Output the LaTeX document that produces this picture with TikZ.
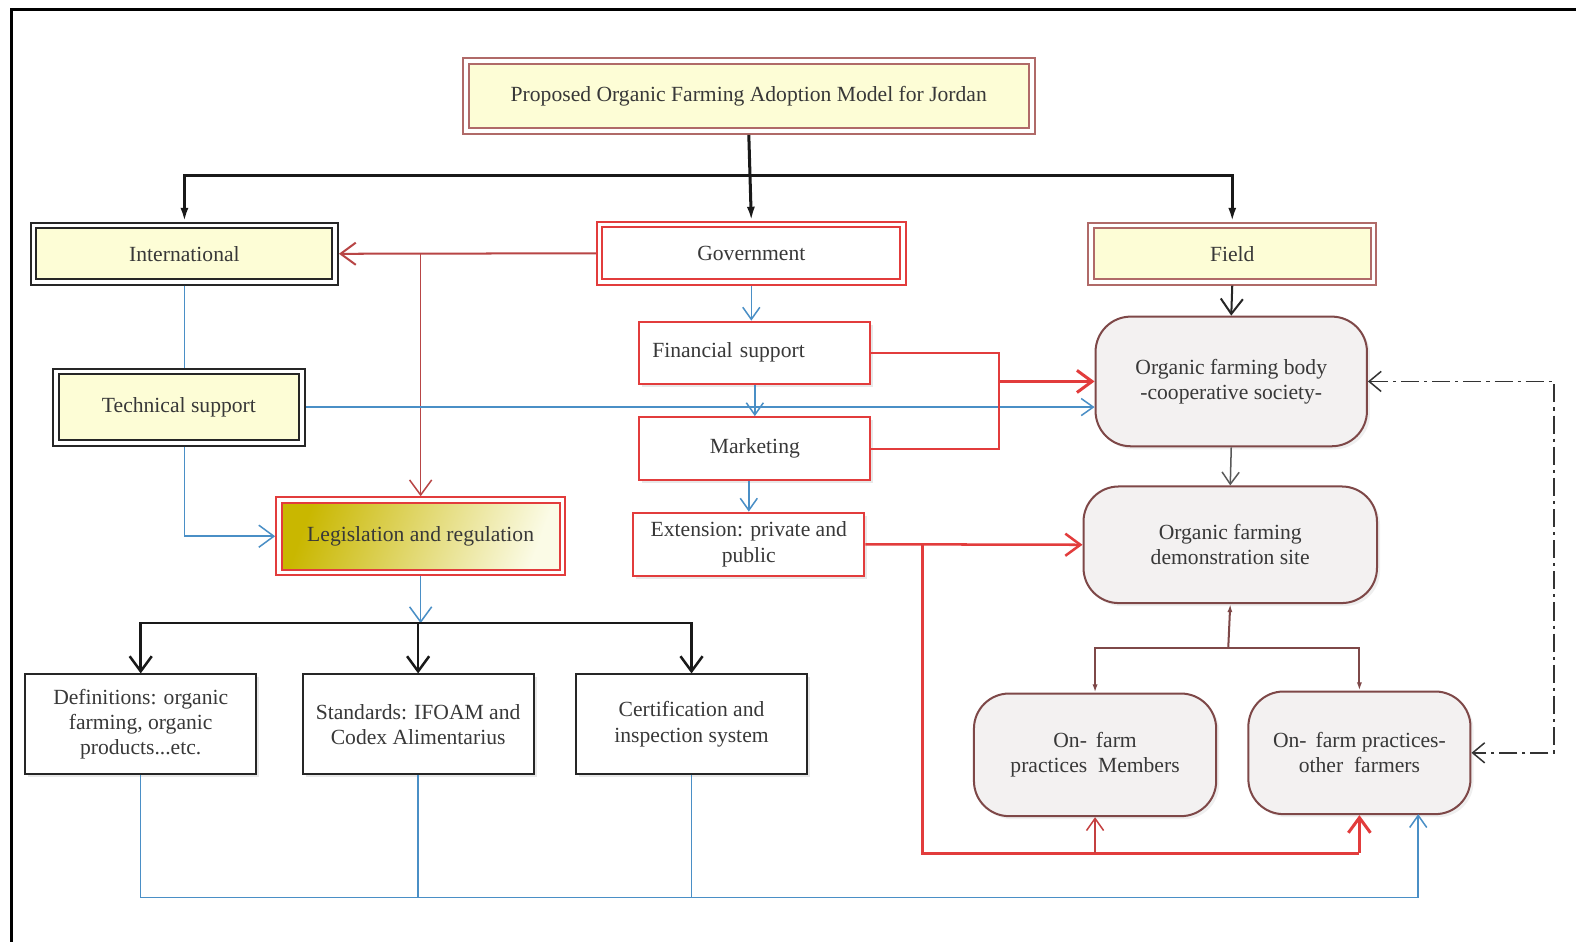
\documentclass[tikz,border=0pt]{standalone}
\usepackage{fontspec}
\setmainfont{Liberation Serif}
\usetikzlibrary{arrows.meta,shadows}
\definecolor{cream}{HTML}{FDFDD6}
\definecolor{mauve}{HTML}{B06A68}
\definecolor{redb}{HTML}{E23C3C}
\definecolor{darkr}{HTML}{B84545}
\definecolor{bluel}{HTML}{4A8FC6}
\definecolor{brownb}{HTML}{7E4848}
\definecolor{grayf}{HTML}{F3F1F1}
\definecolor{txt}{HTML}{383838}
\definecolor{legdark}{HTML}{C9B700}
\definecolor{leglight}{HTML}{FBFBE6}
\tikzset{
  every node/.style={font=\fontsize{21.5}{25}\selectfont, text=txt, align=center, inner sep=0pt},
  dbl/.style={draw, double, double distance=3.5pt, line width=2pt, outer sep=3.75pt},
  sbox/.style={draw=redb, line width=2pt, fill=white, outer sep=1pt,
    drop shadow={opacity=0.18, shadow xshift=3pt, shadow yshift=-3pt}},
  kbox/.style={draw=black!85, line width=2pt, fill=white, outer sep=1pt,
    drop shadow={opacity=0.18, shadow xshift=3pt, shadow yshift=-3pt}},
  rbox/.style={draw=brownb, line width=2pt, fill=grayf, rounded corners=35pt, outer sep=1pt,
    drop shadow={opacity=0.12, shadow xshift=3pt, shadow yshift=-3pt}},
  barb/.style={-{Straight Barb[length=15pt,width=22pt]}},
  sbarb/.style={-{Straight Barb[length=12pt,width=17pt]}},
  tri/.style={-{Latex[length=14pt,width=8pt]}},
  smalltri/.style={-{Latex[length=8pt,width=5pt]}},
  bline/.style={draw=bluel, line width=1.5pt},
  kline/.style={draw=black!90, line width=3pt},
}
\begin{document}
\begin{tikzpicture}[x=1pt,y=-1pt]
\useasboundingbox (0,0) rectangle (1568,937);
\fill[white] (0,0) rectangle (1568,937);
\draw[line width=3pt, line cap=rect] (1568,9) -- (11,9) -- (11,937);

% top level
\node[dbl, draw=mauve, fill=cream, minimum width=563pt, minimum height=70pt] (title) at (745,95.5)
  {Proposed Organic Farming Adoption Model for Jordan};
\node[dbl, draw=black!85, fill=cream, minimum width=300pt, minimum height=56pt] (intl) at (183.5,252.5) {International};
\node[dbl, draw=redb, fill=white, minimum width=302pt, minimum height=57pt] (gov) at (747.5,252) {Government};
\node[dbl, draw=mauve, fill=cream, minimum width=281pt, minimum height=56pt] (field) at (1226,252.5) {Field};
\node[dbl, draw=black!85, fill=cream, minimum width=245pt, minimum height=71pt] (tech) at (178,405) {Technical support};
\node[dbl, draw=redb, left color=legdark, right color=leglight, shading angle=70,
  minimum width=282pt, minimum height=72pt,
  drop shadow={opacity=0.15, shadow xshift=3pt, shadow yshift=-3pt}] (leg) at (418.5,533.5) {Legislation and regulation};

% government column
\node[sbox, minimum width=230pt, minimum height=62pt, text width=204pt, align=left, inner xsep=13pt] (fin) at (751,351) {Financial support};
\node[sbox, minimum width=230pt, minimum height=63pt] (mkt) at (751,446.5) {Marketing};
\node[sbox, minimum width=230pt, minimum height=63pt] (ext) at (745,541.5) {Extension: private and\\public};

% bottom left boxes
\node[kbox, minimum width=230pt, minimum height=99pt] (def) at (140,720.5) {Definitions: organic\\farming, organic\\products...etc.};
\node[kbox, minimum width=230pt, minimum height=99pt] (std) at (416,720.5) {Standards: IFOAM and\\Codex Alimentarius};
\node[kbox, minimum width=230pt, minimum height=99pt] (cert) at (688,720.5) {Certification and\\inspection system};

% right rounded boxes
\node[rbox, minimum width=270pt, minimum height=129pt] (body) at (1225,379.5) {Organic farming body\\-cooperative society-};
\node[rbox, minimum width=292pt, minimum height=116pt] (demo) at (1224,542) {Organic farming\\demonstration site};
\node[rbox, minimum width=241pt, minimum height=122pt] (mem) at (1089.5,751) {On-\, farm\\practices\ \ Members};
\node[rbox, minimum width=221pt, minimum height=122pt] (oth) at (1352.5,749) {On-\, farm practices-\\other\ \ farmers};

% coordinates
\coordinate (bus) at (745,175);
\coordinate (j2) at (994,379.5);
\coordinate (j3) at (918,541.5);
\coordinate (j4) at (918,849);
\coordinate (j5) at (1222,645);
\coordinate (j6) at (418.5,620);
\coordinate (bb) at (0,893);
\coordinate (ob) at (1411,810);

% black trunk
\draw[kline, tri] (title.south) -- (gov.north);
\draw[kline, tri] (bus) -| (intl.north);
\draw[kline, tri] (bus) -| (field.north);

% government -> international / legislation
\draw[draw=darkr, line width=2pt, barb] (gov.west) -- (intl.east);
\draw[draw=darkr, line width=1.5pt, barb] (leg.north |- gov.west) -- (leg.north);

% blue technical
\draw[bline] (intl.south) -- (intl.south |- tech.north);
\draw[bline, barb] (intl.south |- tech.south) |- (leg.west);
\draw[bline, sbarb] (tech.east) -- (tech.east -| body.west);

% government column blue arrows
\draw[bline, sbarb] (gov.south) -- (gov.south |- fin.north);
\draw[bline, sbarb] (fin.south) -- (mkt.north);
\draw[bline, sbarb] (mkt.south -| ext.north) -- (ext.north);

% financial / marketing -> body
\draw[draw=redb, line width=2.5pt] (fin.east) -| (j2) |- (mkt.east);
\draw[draw=redb, line width=3pt, barb] (j2) -- (body.west);

% extension -> demo and on-farm
\draw[draw=redb, line width=2.5pt, barb] (ext.east) -- (demo.west);
\draw[draw=redb, line width=2.5pt] (j3) -- (j4) -- (j4 -| oth.south);
\draw[draw=redb, line width=3pt, barb] (j4 -| oth.south) -- (oth.south);
\draw[draw=redb!70!brownb, line width=1.5pt, sbarb] (j4 -| mem.south) -- (mem.south);

% field column
\draw[draw=black!85, line width=2pt, barb] (field.south) -- (body.north);
\draw[draw=black!65, line width=1.5pt, sbarb] (body.south) -- (demo.north);
\draw[draw=brownb, line width=2pt, smalltri] (j5) -- (demo.south);
\draw[draw=brownb, line width=2pt, {Latex[length=8pt,width=5pt]}-{Latex[length=8pt,width=5pt]}]
  (mem.north) -- (mem.north |- j5) -- (oth.north |- j5) -- (oth.north);
\draw[draw=black!80, line width=1.5pt, dash pattern=on 18pt off 5pt on 3pt off 5pt,
  {Straight Barb[length=12pt,width=20pt]}-{Straight Barb[length=12pt,width=20pt]}]
  (body.east) -- ++(185,0) |- (oth.east);

% legislation -> sub boxes
\draw[bline, barb] (leg.south) -- (j6);
\draw[kline, line width=2.5pt, barb] (j6) -| (def.north);
\draw[kline, line width=2.5pt, barb] (j6) -| (cert.north);
\draw[kline, line width=2.5pt, barb] (j6 -| std.north) -- (std.north);

% bottom blue bus
\draw[bline, sbarb] (def.south) |- (bb -| ob) -- (ob);
\draw[bline] (std.south) -- (std.south |- bb);
\draw[bline] (cert.south) -- (cert.south |- bb);
\end{tikzpicture}
\end{document}
